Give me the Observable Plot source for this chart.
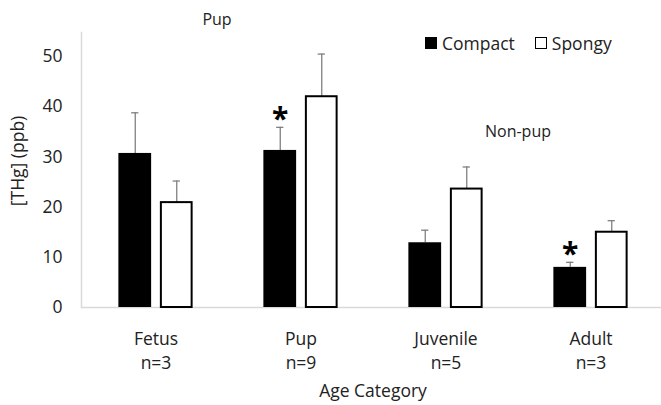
<!DOCTYPE html>
<html><head><meta charset="utf-8">
<script src="https://cdn.jsdelivr.net/npm/d3@7"></script>
<script src="https://cdn.jsdelivr.net/npm/@observablehq/plot@0.6"></script>
<style>
body{margin:0;background:#fff;overflow:hidden;font-family:"Open Sans",sans-serif;color:#222}
#wrap{position:relative;width:661px;height:405px}
.ann{position:absolute;white-space:nowrap;font-size:16px;line-height:1;transform:translate(-50%,-50%)}
.legend{position:absolute;left:425px;top:33px;display:flex;align-items:center;font-size:17.5px;line-height:20px;white-space:nowrap}
.sw{width:12px;height:12px;box-sizing:border-box;margin-right:5px}
</style></head><body><div id="wrap"></div>
<script>
const categories = ["Fetus", "Pup", "Juvenile", "Adult"];
const nLabels = ["n=3", "n=9", "n=5", "n=3"];
const compact = [30.7, 31.3, 12.9, 8.0];
const compactErr = [8.1, 4.6, 2.5, 1.0];
const spongy = [20.9, 42.0, 23.6, 15.0];
const spongyErr = [4.3, 8.5, 4.4, 2.3];
const yTicks = [0, 10, 20, 30, 40, 50];
const starred = ["Pup", "Adult"]; // compact bars marked with *
const seriesNames = ["Compact", "Spongy"];
const groupNotes = ["Pup", "Non-pup"];

const rows = categories.map((c, i) => ({
  category: c,
  compact: compact[i], compactTop: compact[i] + compactErr[i],
  spongy: spongy[i], spongyTop: spongy[i] + spongyErr[i]
}));
const starRows = rows.filter(r => starred.includes(r.category));

const bw = 145.75, barW = 33.5, off = barW / 2 + 4;
const inset = (bw - barW) / 2, capInset = (bw - 8) / 2;
const errColor = "#808080";
const fs = 17.5;

const chart = Plot.plot({
  width: 661, height: 405,
  marginLeft: 81, marginRight: -3, marginTop: 32, marginBottom: 98,
  style: {fontFamily: '"Open Sans", sans-serif', fontSize: fs + "px", color: "#222", background: "#fff", overflow: "visible"},
  x: {domain: categories, padding: 0, axis: null},
  y: {domain: [0, 54.8], axis: null},
  marks: [
    Plot.frame({anchor: "left", stroke: "#d9d9d9", strokeWidth: 1.5}),
    Plot.ruleY([0], {stroke: "#d9d9d9", strokeWidth: 1.5}),
    Plot.axisY({ticks: yTicks, tickSize: 0, tickPadding: 19, label: null, fill: "#222", fontSize: fs}),
    Plot.axisX({tickSize: 0, tickPadding: 20, lineHeight: 1.4, label: null, fill: "#222", fontSize: fs,
      tickFormat: d => d + "\n" + nLabels[categories.indexOf(d)]}),
    Plot.ruleX(rows, {x: "category", y1: "compact", y2: "compactTop", stroke: errColor, strokeWidth: 1.3, dx: -off}),
    Plot.tickY(rows, {x: "category", y: "compactTop", stroke: errColor, strokeWidth: 1.3, insetLeft: capInset, insetRight: capInset, dx: -off}),
    Plot.ruleX(rows, {x: "category", y1: "spongy", y2: "spongyTop", stroke: errColor, strokeWidth: 1.3, dx: off}),
    Plot.tickY(rows, {x: "category", y: "spongyTop", stroke: errColor, strokeWidth: 1.3, insetLeft: capInset, insetRight: capInset, dx: off}),
    Plot.barY(rows, {x: "category", y: "compact", fill: "#000", insetLeft: inset, insetRight: inset, dx: -off}),
    Plot.barY(rows, {x: "category", y: "spongy", fill: "#fff", stroke: "#000", strokeWidth: 2, insetLeft: inset + 1, insetRight: inset + 1, dx: off}),
    Plot.text(starRows, {x: "category", y: "compactTop", text: () => "*", dx: -off, dy: 2, lineAnchor: "bottom", fontSize: 30, fontWeight: "bold", fill: "#000"}),
    Plot.text(["[THg] (ppb)"], {frameAnchor: "left", textAnchor: "middle", dx: -63, dy: -9, rotate: -90, fill: "#222", fontSize: fs}),
    Plot.text(["Age Category"], {frameAnchor: "bottom", dy: 77, lineAnchor: "top", fill: "#222", fontSize: fs})
  ]
});
const wrap = document.getElementById("wrap");
wrap.appendChild(chart);

const legend = document.createElement("div");
legend.className = "legend";
legend.innerHTML =
  `<span class="sw" style="background:#000"></span><span>${seriesNames[0]}</span>` +
  `<span class="sw" style="background:#fff;border:1.5px solid #000;margin-left:20px"></span><span>${seriesNames[1]}</span>`;
wrap.appendChild(legend);

const notePos = [[217, 19], [518, 131]];
groupNotes.forEach((t, i) => {
  const d = document.createElement("div");
  d.className = "ann";
  d.style.left = notePos[i][0] + "px";
  d.style.top = notePos[i][1] + "px";
  d.textContent = t;
  wrap.appendChild(d);
});
</script></body></html>
